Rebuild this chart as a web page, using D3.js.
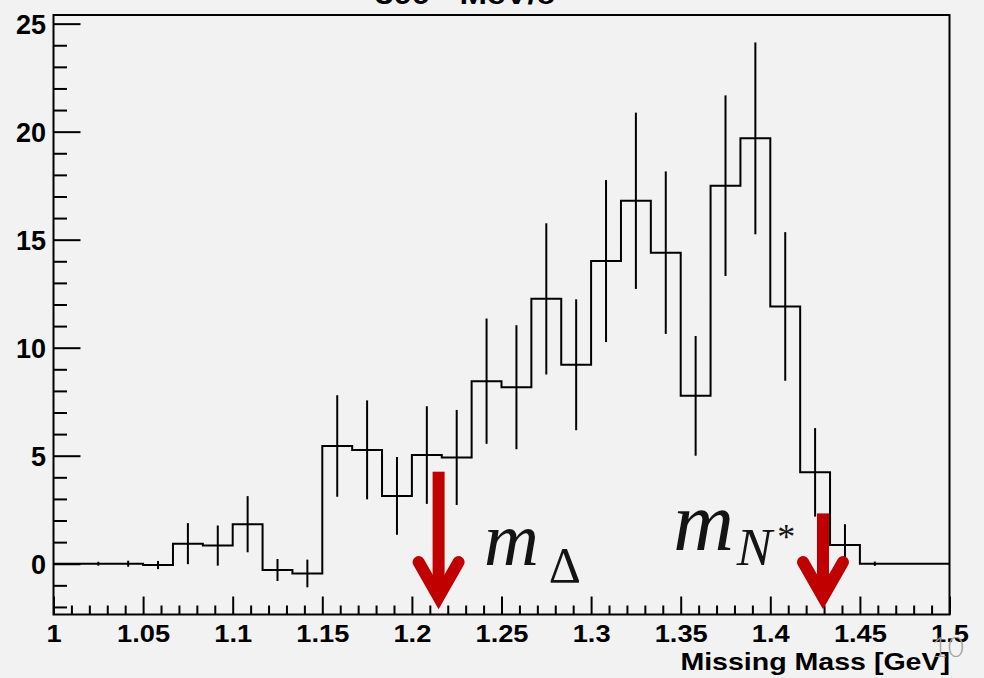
<!DOCTYPE html>
<html>
<head>
<meta charset="utf-8">
<script src="https://cdn.jsdelivr.net/npm/d3@7"></script>
<style>
  html, body { margin: 0; padding: 0; background: #f2f2f2; }
  svg { display: block; }
</style>
</head>
<body>
<svg id="chart" width="984" height="678"></svg>
<script>
// Missing-mass histogram: 30 bins between 1.0 and 1.5 GeV
const binLow = 1.0;
const binHigh = 1.5;
const counts = [0, 0, 0, -0.06, 0.93, 0.84, 1.83, -0.29, -0.45, 5.45,
                5.27, 3.14, 5.03, 4.92, 8.45, 8.17, 12.26, 9.21, 14.01, 16.8,
                14.4, 7.77, 17.5, 19.69, 11.91, 4.23, 0.87, 0, 0, 0];
const errors = [0, 0.09, 0.14, 0.19, 0.95, 0.93, 1.3, 0.51, 0.64, 2.35,
                2.29, 1.8, 2.26, 2.2, 2.9, 2.87, 3.5, 3.03, 3.75, 4.08,
                3.76, 2.77, 4.18, 4.44, 3.44, 2.05, 0.96, 0.1, 0, 0];

const xTicks = [1, 1.05, 1.1, 1.15, 1.2, 1.25, 1.3, 1.35, 1.4, 1.45, 1.5];
const xTickLabels = ["1", "1.05", "1.1", "1.15", "1.2", "1.25", "1.3", "1.35", "1.4", "1.45", "1.5"];
const yTicks = [0, 5, 10, 15, 20, 25];
const yTickLabels = ["0", "5", "10", "15", "20", "25"];

// Mass markers (arrow position in GeV, top of arrow shaft in counts)
const markerMass = [1.2149, 1.4294];
const markerTop = [4.26, 2.33];

const xTitle = "Missing Mass [GeV]";
const plotTitle = "300 - MeV/c";
const pageNumber = "10";

// ---- layout ----
const frame = { left: 53.5, right: 949.5, top: 15, bottom: 614.5 };
const yMin = -2.35, yMax = 25.4;

const svg = d3.select("#chart");

svg.append("rect")
  .attr("width", 984).attr("height", 678)
  .attr("fill", "#f2f2f2");

const x = d3.scaleLinear().domain([binLow, binHigh]).range([frame.left, frame.right]);
const y = d3.scaleLinear().domain([yMin, yMax]).range([frame.bottom, frame.top]);

const binW = (binHigh - binLow) / counts.length;

// ---- axes ----
const sansBold = "'Liberation Sans', Arial, Helvetica, sans-serif";

const minorX = d3.range(0, 51).map(i => binLow + i * 0.01)
  .filter(v => !xTicks.some(t => Math.abs(t - v) < 1e-6));
const minorY = d3.range(-2, 26).filter(v => v % 5 !== 0);

function styleAxis(g) {
  g.select(".domain").remove();
  g.selectAll(".tick line").attr("stroke", "#000").attr("stroke-width", 2);
}

svg.append("g")
  .attr("transform", `translate(0,${frame.bottom})`)
  .call(d3.axisBottom(x).tickValues(minorX).tickSizeInner(-9).tickSizeOuter(0).tickFormat(""))
  .call(styleAxis);

const gx = svg.append("g")
  .attr("transform", `translate(0,${frame.bottom})`)
  .call(d3.axisBottom(x).tickValues(xTicks).tickSizeInner(-18).tickSizeOuter(0)
    .tickPadding(10.5)
    .tickFormat(d => xTickLabels[xTicks.findIndex(t => Math.abs(t - d) < 1e-9)]))
  .call(styleAxis);
gx.selectAll("text")
  .attr("fill", "#000")
  .style("font-family", sansBold)
  .style("font-weight", "bold")
  .style("font-size", "23.5px")
  .attr("transform", "scale(1.16,1)");

svg.append("g")
  .attr("transform", `translate(${frame.left},0)`)
  .call(d3.axisLeft(y).tickValues(minorY).tickSizeInner(-13.5).tickSizeOuter(0).tickFormat(""))
  .call(styleAxis);

const gy = svg.append("g")
  .attr("transform", `translate(${frame.left},0)`)
  .call(d3.axisLeft(y).tickValues(yTicks).tickSizeInner(-27).tickSizeOuter(0)
    .tickPadding(7.5)
    .tickFormat(d => yTickLabels[yTicks.indexOf(d)]))
  .call(styleAxis);
gy.selectAll("text")
  .attr("fill", "#000")
  .attr("dy", "0.35em")
  .style("font-family", sansBold)
  .style("font-weight", "bold")
  .style("font-size", "27px");

// ---- histogram outline ----
const stepPts = [];
counts.forEach((v, i) => {
  stepPts.push([binLow + i * binW, v]);
  stepPts.push([binLow + (i + 1) * binW, v]);
});
svg.append("path")
  .datum(stepPts)
  .attr("fill", "none")
  .attr("stroke", "#000")
  .attr("stroke-width", 2)
  .attr("stroke-linejoin", "miter")
  .attr("d", d3.line().x(d => x(d[0])).y(d => y(d[1])));

// ---- error bars ----
svg.append("g")
  .selectAll("line")
  .data(counts.map((v, i) => ({ c: binLow + (i + 0.5) * binW, v, e: errors[i] })).filter(d => d.e > 0))
  .join("line")
  .attr("x1", d => x(d.c)).attr("x2", d => x(d.c))
  .attr("y1", d => y(d.v - d.e)).attr("y2", d => y(d.v + d.e))
  .attr("stroke", "#000")
  .attr("stroke-width", 2);

// ---- frame ----
svg.append("rect")
  .attr("x", frame.left).attr("y", frame.top)
  .attr("width", frame.right - frame.left).attr("height", frame.bottom - frame.top)
  .attr("fill", "none").attr("stroke", "#000").attr("stroke-width", 2);

// ---- arrows marking the resonance masses ----
const arrowRed = "#c00000";
const tipVal = -2.1;
markerMass.forEach((m, i) => {
  const cx = x(m);
  const tip = y(tipVal);
  const top = y(markerTop[i]);
  svg.append("rect")
    .attr("x", cx - 6).attr("y", top)
    .attr("width", 12).attr("height", tip - 12 - top)
    .attr("fill", arrowRed);
  svg.append("path")
    .attr("d", `M${cx - 20},${tip - 47} L${cx},${tip - 12} L${cx + 20},${tip - 47}`)
    .attr("fill", "none")
    .attr("stroke", arrowRed)
    .attr("stroke-width", 12)
    .attr("stroke-linecap", "round")
    .attr("stroke-linejoin", "miter");
});

// ---- mass labels ----
const serif = "'Liberation Serif', 'Times New Roman', serif";
const ink = "#141414";

const lblDelta = svg.append("text")
  .attr("x", x(1.2402)).attr("y", y(-0.06))
  .attr("fill", ink)
  .style("font-family", serif);
lblDelta.append("tspan").text("m")
  .style("font-style", "italic").style("font-size", "76px");
lblDelta.append("tspan").text("Δ")
  .attr("dx", 10).attr("dy", 17)
  .style("font-size", "50px");

const lblN = svg.append("text")
  .attr("x", x(1.3458)).attr("y", y(0.63))
  .attr("fill", ink)
  .style("font-family", serif);
lblN.append("tspan").text("m")
  .style("font-style", "italic").style("font-size", "84px");
lblN.append("tspan").text("N")
  .attr("dx", 3).attr("dy", 15)
  .style("font-style", "italic").style("font-size", "53px");
lblN.append("tspan").text("*")
  .attr("dx", 5).attr("dy", -16)
  .style("font-size", "36px");

// ---- axis title ----
svg.append("text")
  .attr("transform", "translate(950,670) scale(1.19,1)")
  .attr("text-anchor", "end")
  .attr("fill", "#000")
  .style("font-family", sansBold)
  .style("font-weight", "bold")
  .style("font-size", "24px")
  .text(xTitle);

// ---- plot title (runs off the top edge) ----
svg.append("text")
  .attr("transform", "translate(465,4) scale(1.18,1)")
  .attr("text-anchor", "middle")
  .attr("fill", "#000")
  .style("font-family", sansBold)
  .style("font-weight", "bold")
  .style("font-size", "28px")
  .text(plotTitle);

// ---- slide number ----
svg.append("text")
  .attr("x", 964).attr("y", 657)
  .attr("text-anchor", "end")
  .attr("fill", "#a7a29a")
  .style("font-family", "Lato, 'Open Sans', sans-serif")
  .style("font-weight", 300)
  .style("font-size", "28px")
  .text(pageNumber);
</script>
</body>
</html>
